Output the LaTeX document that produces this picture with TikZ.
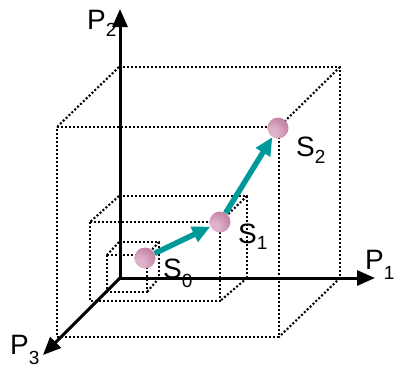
\documentclass[tikz,border=0pt]{standalone}
\usepackage{fontspec}
\setmainfont{Liberation Sans}
\usetikzlibrary{arrows.meta}
\definecolor{tealc}{RGB}{0,153,153}
\definecolor{sL}{RGB}{222,178,200}
\definecolor{sM}{RGB}{200,138,170}
\definecolor{sN}{RGB}{180,105,142}
\definecolor{sD}{RGB}{150,64,106}
\pgfdeclareradialshading{sphshade}{\pgfpoint{-16bp}{-14bp}}{color(0bp)=(sL); color(12bp)=(sL); color(32bp)=(sM); color(56bp)=(sN); color(76bp)=(sD); color(100bp)=(sD)}
\newcommand{\lab}[3]{{\fontsize{28}{28}\selectfont #1}\raisebox{-#3pt}{\fontsize{19}{19}\selectfont #2}}
\tikzset{
  dots/.style={line width=2.1pt, dash pattern=on 2pt off 2pt},
  axis/.style={line width=3pt, -{Triangle[length=18pt,width=15pt]}},
  tealarrow/.style={draw=tealc, line width=5.5pt, -{Triangle[length=18pt,width=16pt]}},
  sphere/.style={circle, minimum size=21pt, inner sep=0pt, shading=sphshade},
  lbl/.style={anchor=base west, inner sep=0pt}
}
\begin{document}
\begin{tikzpicture}[x=1pt,y=-1pt]
\useasboundingbox (0,0) rectangle (395,367);
% big box
\draw[dots] (119,67) -- (340,67) -- (340,278);
\draw[dots] (119,67) -- (57,127);
\draw[dots] (57,127) -- (279,127) -- (279,337) -- (57,337) -- cycle;
\draw[dots] (340,67) -- (279,127);
\draw[dots] (340,278) -- (279,337);
% medium box
\draw[dots] (119,196) -- (247,196) -- (247,278);
\draw[dots] (119,196) -- (90,222);
\draw[dots] (90,222) -- (220,222) -- (220,301) -- (90,301) -- cycle;
\draw[dots] (247,196) -- (220,222);
\draw[dots] (247,278) -- (220,301);
% small box
\draw[dots] (119,242) -- (159,242) -- (159,278);
\draw[dots] (119,242) -- (107,255);
\draw[dots] (107,255) -- (147,255) -- (147,292) -- (107,292) -- cycle;
\draw[dots] (159,242) -- (147,255);
\draw[dots] (159,278) -- (147,292);
% axes
\coordinate (O) at (120,278);
\coordinate (p1) at (375,278);
\coordinate (p2) at (120,9);
\coordinate (p3) at (43,355);
\draw[axis] (O) -- (p1);
\draw[axis] (O) -- (p2);
\draw[axis] (O) -- (p3);
\node[lbl] (lp1) at (365,269) {\lab{P}{1}{10}};
\node[lbl] (lp2) at (87,29) {\lab{P}{2}{7}};
\node[lbl] (lp3) at (10,354) {\lab{P}{3}{10}};
% states
\node[sphere] (s0) at (145,258) {};
\node[sphere] (s1) at (220,222) {};
\node[sphere] (s2) at (278,128) {};
\draw[tealarrow] (s0) -- (s1);
\draw[tealarrow] (s1) -- (s2);
\node[lbl] (ls0) at (163,278) {\lab{S}{0}{9}};
\node[lbl] (ls1) at (238,243) {\lab{S}{1}{6}};
\node[lbl] (ls2) at (296,156) {\lab{S}{2}{7}};
\end{tikzpicture}
\end{document}
